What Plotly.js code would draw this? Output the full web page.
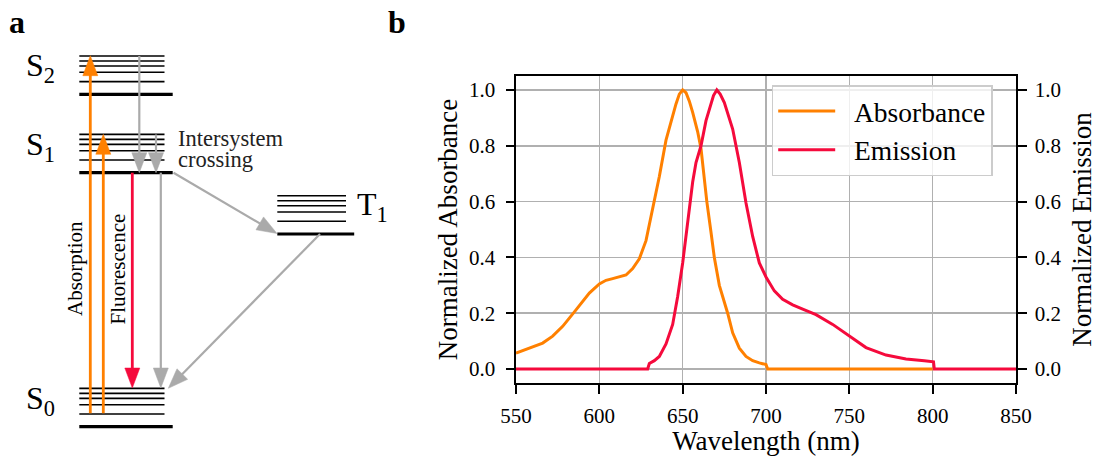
<!DOCTYPE html>
<html><head><meta charset="utf-8">
<script src="https://cdn.plot.ly/plotly-3.0.1.min.js"></script>
<style>html,body{margin:0;padding:0;background:#fff}#chart{width:1097px;height:456px}</style>
</head><body><div id="chart"></div>
<script>
// ---------- Panel b : spectra ----------
const absWavelength = [550, 558, 566, 572, 578, 586, 594, 600, 604, 608, 612, 616, 620, 624, 628, 632, 636, 640, 644, 646, 648, 650, 652, 654, 656, 659, 661, 664.5, 667, 669, 672, 675, 677, 680, 684, 688, 692, 696, 700, 701, 800];
const absorbance    = [0.057, 0.075, 0.093, 0.118, 0.153, 0.212, 0.272, 0.305, 0.318, 0.324, 0.33, 0.337, 0.36, 0.395, 0.46, 0.57, 0.69, 0.82, 0.91, 0.95, 0.985, 1.0, 0.99, 0.96, 0.92, 0.85, 0.79, 0.6, 0.49, 0.4, 0.3, 0.24, 0.2, 0.13, 0.075, 0.045, 0.03, 0.022, 0.016, 0.0, 0.0];
const emWavelength  = [550, 629, 630, 633, 636, 640, 644, 647, 650, 653, 656, 658, 661, 664, 667, 668.5, 670.5, 672.5, 675, 678, 680, 684, 688, 692, 696, 700, 705, 710, 716, 722, 730, 740, 750, 760, 772, 784, 795, 800.5, 801, 850];
const emission      = [0, 0, 0.02, 0.03, 0.045, 0.09, 0.16, 0.26, 0.38, 0.52, 0.67, 0.74, 0.80, 0.89, 0.95, 0.98, 1.0, 0.985, 0.955, 0.9, 0.86, 0.74, 0.595, 0.475, 0.38, 0.33, 0.28, 0.25, 0.23, 0.215, 0.195, 0.16, 0.117, 0.077, 0.05, 0.036, 0.03, 0.026, 0, 0];
const seriesNames = ['Absorbance', 'Emission'];
const xTicks = [550, 600, 650, 700, 750, 800, 850];
const yTicks = [0, 0.2, 0.4, 0.6, 0.8, 1.0];

// ---------- Panel a : Jablonski diagram (diagram units) ----------
const stateLabels = ['S<sub>0</sub>', 'S<sub>1</sub>', 'S<sub>2</sub>', 'T<sub>1</sub>'];
const stateBase   = [426.7, 172.7, 94.3, 234];
const stateLeft   = [79.3, 79.3, 79.3, 277.3];
const stateRight  = [164.5, 164.5, 164.5, 346];
const vibOffsets  = [12.7, 22, 28.3, 33.3, 38.3];
const transX0 = [90.3, 103.3, 132.3, 160.8, 139.3, 156, 173.5, 320];
const transY0 = [413.3, 413.3, 172.7, 172.7, 56, 134.5, 172.7, 234];
const transX1 = [90.3, 103.3, 132.3, 160.8, 139.3, 156, 277, 168.3];
const transY1 = [55.7, 134.3, 388, 388, 172.7, 172.7, 233.5, 388.3];
const transKind = ['abs', 'abs', 'fluo', 'nr', 'nr', 'nr', 'nr', 'nr'];
const processLabels = ['Absorption', 'Fluorescence'];
const iscLabel = ['Intersystem', 'crossing'];

// ---------- styles ----------
const FONT = "'Liberation Serif', 'DejaVu Serif', serif";
const ORANGE = '#ff8000', RED = '#f50a3c', GRAY = '#aaaaaa';
const kindColor = {abs: ORANGE, fluo: RED, nr: GRAY};
const kindWidth = {abs: 2.8, fluo: 2.8, nr: 2.2};
const HEAD_L = 20, HEAD_W = 7.5;

const traces = [];
traces.push({x: absWavelength, y: absorbance, name: '\u2002' + seriesNames[0], type: 'scatter', mode: 'lines',
  line: {color: ORANGE, width: 3}, xaxis: 'x', yaxis: 'y', hoverinfo: 'skip'});
traces.push({x: emWavelength, y: emission, name: '\u2002' + seriesNames[1], type: 'scatter', mode: 'lines',
  line: {color: RED, width: 3}, xaxis: 'x', yaxis: 'y2', hoverinfo: 'skip'});

// energy levels
const thinX = [], thinY = [], thickX = [], thickY = [];
for (let i = 0; i < stateBase.length; i++) {
  thickX.push(stateLeft[i], stateRight[i] + 8.2, null);
  thickY.push(stateBase[i], stateBase[i], null);
  vibOffsets.forEach(o => {
    thinX.push(stateLeft[i], stateRight[i], null);
    thinY.push(stateBase[i] - o, stateBase[i] - o, null);
  });
}
traces.push({x: thinX, y: thinY, mode: 'lines', line: {color: 'black', width: 1.6}, xaxis: 'x3', yaxis: 'y3', showlegend: false, hoverinfo: 'skip'});
traces.push({x: thickX, y: thickY, mode: 'lines', line: {color: 'black', width: 3.2}, xaxis: 'x3', yaxis: 'y3', showlegend: false, hoverinfo: 'skip'});

// transitions
for (let i = 0; i < transX0.length; i++) {
  const dx = transX1[i] - transX0[i], dy = transY1[i] - transY0[i];
  const len = Math.hypot(dx, dy), ux = dx / len, uy = dy / len;
  const bx = transX1[i] - HEAD_L * ux, by = transY1[i] - HEAD_L * uy;
  const c = kindColor[transKind[i]];
  traces.push({x: [transX0[i], bx + ux * 2], y: [transY0[i], by + uy * 2], mode: 'lines',
    line: {color: c, width: kindWidth[transKind[i]]}, xaxis: 'x3', yaxis: 'y3', showlegend: false, hoverinfo: 'skip'});
  traces.push({x: [transX1[i], bx - uy * HEAD_W, bx + uy * HEAD_W, transX1[i]],
    y: [transY1[i], by + ux * HEAD_W, by - ux * HEAD_W, transY1[i]], mode: 'lines', fill: 'toself',
    fillcolor: c, line: {color: c, width: 0.5}, xaxis: 'x3', yaxis: 'y3', showlegend: false, hoverinfo: 'skip'});
}

const annotations = [];
// state labels
for (let i = 0; i < stateBase.length; i++) {
  const top = stateBase[i] - vibOffsets[vibOffsets.length - 1];
  const isT = i === 3;
  annotations.push({xref: 'x3', yref: 'y3', x: isT ? 355 : 57, y: top + (isT ? 11 : 11.8),
    xanchor: isT ? 'left' : 'right', yanchor: 'middle', text: stateLabels[i], showarrow: false,
    font: {family: FONT, size: 32, color: 'black'}});
}
annotations.push({xref: 'x3', yref: 'y3', x: 75, y: 269, text: processLabels[0], textangle: -90, showarrow: false,
  font: {family: FONT, size: 21, color: 'black'}, xanchor: 'center', yanchor: 'middle'});
annotations.push({xref: 'x3', yref: 'y3', x: 117.5, y: 269, text: processLabels[1], textangle: -90, showarrow: false,
  font: {family: FONT, size: 21, color: 'black'}, xanchor: 'center', yanchor: 'middle'});
annotations.push({xref: 'x3', yref: 'y3', x: 176, y: 138.5, text: iscLabel[0], showarrow: false, xanchor: 'left', yanchor: 'middle',
  font: {family: FONT, size: 22.5, color: '#222'}});
annotations.push({xref: 'x3', yref: 'y3', x: 176, y: 159.5, text: iscLabel[1], showarrow: false, xanchor: 'left', yanchor: 'middle',
  font: {family: FONT, size: 22.5, color: '#222'}});
// panel letters
annotations.push({xref: 'paper', yref: 'paper', x: 7 / 1097, y: 1 - 21.8 / 456, text: '<b>a</b>', showarrow: false,
  xanchor: 'left', yanchor: 'middle', font: {family: FONT, size: 32, color: 'black'}});
annotations.push({xref: 'paper', yref: 'paper', x: 386 / 1097, y: 1 - 21.8 / 456, text: '<b>b</b>', showarrow: false,
  xanchor: 'left', yanchor: 'middle', font: {family: FONT, size: 32, color: 'black'}});

const axisCommon = {ticks: 'outside', ticklen: 8.5, tickwidth: 2, tickcolor: 'black', showline: true, linecolor: 'black',
  linewidth: 2, zeroline: false, automargin: false, tickfont: {family: FONT, size: 21, color: 'black'}, fixedrange: true};

const layout = {
  width: 1097, height: 456, margin: {l: 0, r: 0, t: 0, b: 0},
  paper_bgcolor: 'white', plot_bgcolor: 'rgba(0,0,0,0)',
  font: {family: FONT, color: 'black', size: 21},
  showlegend: true,
  legend: {x: 771.7 / 1097, y: 1 - 85 / 456, xanchor: 'left', yanchor: 'top', bgcolor: 'rgba(255,255,255,0.8)',
    bordercolor: '#cccccc', borderwidth: 1.5, font: {family: FONT, size: 27.5, color: 'black'}, itemwidth: 57,
    traceorder: 'normal'},
  xaxis: Object.assign({}, axisCommon, {domain: [516 / 1097, 1016 / 1097], range: [550, 850], tickvals: xTicks,
    mirror: true, showgrid: true, gridcolor: '#b0b0b0', gridwidth: 1.6, anchor: 'y', ticklabelstandoff: 4,
    title: {text: 'Wavelength (nm)', font: {family: FONT, size: 27, color: 'black'}, standoff: 14}}),
  yaxis: Object.assign({}, axisCommon, {domain: [1 - 383 / 456, 1 - 76 / 456], range: [-0.05, 1.05], tickvals: yTicks,
    tickformat: '.1f', showgrid: true, gridcolor: '#b0b0b0', gridwidth: 1.6, anchor: 'x', ticklabelstandoff: 6,
    title: {text: 'Normalized Absorbance', font: {family: FONT, size: 27, color: 'black'}, standoff: 4}}),
  yaxis2: Object.assign({}, axisCommon, {overlaying: 'y', side: 'right', anchor: 'x', range: [-0.05, 1.05], tickvals: yTicks,
    tickformat: '.1f', showgrid: false, ticklabelstandoff: 4,
    title: {text: 'Normalized Emission', font: {family: FONT, size: 27, color: 'black'}, standoff: 27}}),
  xaxis3: {domain: [0, 380 / 1097], range: [0, 380], visible: false, fixedrange: true, anchor: 'y3'},
  yaxis3: {domain: [0, 1], range: [456, 0], visible: false, fixedrange: true, anchor: 'x3'},
  annotations: annotations
};

Plotly.newPlot('chart', traces, layout, {staticPlot: true, displayModeBar: false});
</script>
</body></html>
